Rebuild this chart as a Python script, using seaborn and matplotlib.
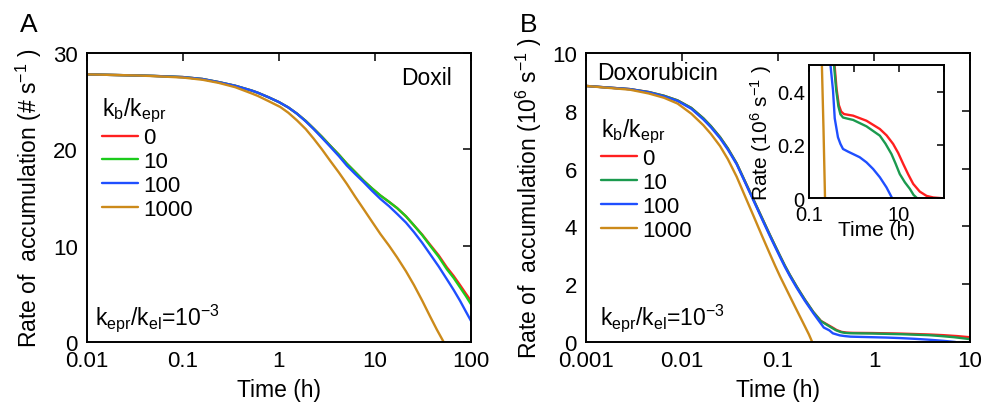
import matplotlib
matplotlib.use("Agg")
import matplotlib.pyplot as plt
import pandas as pd
import seaborn as sns

# k_b/k_epr ratios (hue levels)
ratio_labels = ["0", "10", "100", "1000"]

# Doxil: time (h) and rate of accumulation (# s^-1)
doxil_t = [0.01, 0.032, 0.05, 0.1, 0.16, 0.235, 0.35, 0.52, 0.6, 0.78, 1.0, 1.25, 1.54,
           1.9, 2.3, 2.8, 3.4, 4.2, 5.1, 6.2, 7.6, 9.3, 11.4, 14.0, 17.0, 21.0, 25.5,
           31.0, 37.5, 46.0, 56.0, 66.0, 77.0, 88.0, 100.0]
doxil_r0 = [27.78, 27.67, 27.62, 27.5, 27.3, 26.98, 26.6, 26.1, 25.88, 25.4, 24.9, 24.35, 23.7,
            22.95, 22.15, 21.3, 20.4, 19.45, 18.5, 17.65, 16.75, 15.95, 15.2, 14.55, 13.9, 13.05, 12.1,
            11.15, 10.1, 9.0, 7.75, 6.85, 5.9, 5.05, 4.26]
doxil_r10 = [27.78, 27.67, 27.62, 27.5, 27.3, 26.98, 26.6, 26.1, 25.88, 25.4, 24.9, 24.35, 23.7,
             22.95, 22.15, 21.3, 20.4, 19.45, 18.5, 17.65, 16.75, 15.95, 15.2, 14.55, 13.9, 13.05, 12.1,
             11.1, 10.0, 8.85, 7.56, 6.65, 5.66, 4.8, 3.92]
doxil_r100 = [27.78, 27.67, 27.62, 27.5, 27.3, 26.98, 26.6, 26.1, 25.88, 25.4, 24.9, 24.35, 23.7,
              22.9, 22.1, 21.2, 20.3, 19.3, 18.3, 17.45, 16.6, 15.7, 14.85, 14.1, 13.3, 12.4, 11.4,
              10.3, 9.12, 7.85, 6.52, 5.4, 4.27, 3.2, 2.19]
doxil_t1000 = [0.01, 0.032, 0.05, 0.1, 0.16, 0.235, 0.35, 0.52, 0.6, 0.78, 1.03, 1.25, 1.54,
               1.9, 2.3, 2.8, 3.42, 4.2, 5.1, 6.2, 7.6, 9.3, 11.4, 14.0, 17.0, 21.0, 25.5,
               31.0, 37.5, 44.0, 51.9]
doxil_r1000 = [27.78, 27.67, 27.6, 27.45, 27.22, 26.9, 26.45, 25.8, 25.55, 25.0, 24.4, 23.8, 23.0,
               22.1, 21.1, 20.0, 18.8, 17.6, 16.4, 15.1, 13.8, 12.5, 11.2, 10.0, 8.78, 7.35, 5.9,
               4.3, 2.65, 1.3, 0.0]

# Doxorubicin: time (h) and rate of accumulation (10^6 s^-1)
dox_t0 = [0.001, 0.00287, 0.0045, 0.0065, 0.009, 0.0125, 0.0167, 0.02, 0.0249, 0.03,
          0.0371, 0.045, 0.0553, 0.068, 0.0825, 0.093, 0.105, 0.118, 0.133, 0.157,
          0.175, 0.191, 0.21, 0.233, 0.28, 0.37, 0.41, 0.46, 0.52, 0.6,
          0.75, 0.955, 1.89, 3.75, 5.3, 7.4, 9.6, 12.4, 16.0, 20.7,
          29.0, 41.0, 58.0, 97.0]
dox_r0 = [8.86, 8.75, 8.65, 8.52, 8.36, 8.1, 7.74, 7.47, 7.09, 6.7,
          6.18, 5.58, 4.94, 4.3, 3.7, 3.34, 2.98, 2.64, 2.32, 1.91,
          1.66, 1.46, 1.26, 1.04, 0.73, 0.5, 0.41, 0.35, 0.325, 0.316,
          0.313, 0.31, 0.291, 0.26, 0.236, 0.204, 0.17, 0.129, 0.09, 0.054,
          0.025, 0.009, 0.003, 0.0]
dox_t10 = [0.001, 0.00287, 0.0045, 0.0065, 0.009, 0.0125, 0.0167, 0.02, 0.0249, 0.03,
           0.0371, 0.045, 0.0553, 0.068, 0.0825, 0.093, 0.105, 0.118, 0.133, 0.157,
           0.175, 0.191, 0.21, 0.233, 0.28, 0.36, 0.40, 0.45, 0.5, 0.57,
           0.75, 0.955, 1.89, 3.75, 5.0, 6.8, 8.4, 10.4, 13.5, 17.5,
           21.0, 25.4]
dox_r10 = [8.86, 8.75, 8.65, 8.52, 8.36, 8.1, 7.74, 7.47, 7.09, 6.7,
           6.18, 5.58, 4.94, 4.3, 3.7, 3.34, 2.98, 2.64, 2.32, 1.91,
           1.66, 1.46, 1.26, 1.04, 0.72, 0.5, 0.41, 0.345, 0.315, 0.303,
           0.298, 0.294, 0.27, 0.235, 0.205, 0.166, 0.13, 0.091, 0.06, 0.035,
           0.013, 0.0]
dox_t100 = [0.001, 0.00287, 0.0045, 0.0065, 0.009, 0.0125, 0.0167, 0.02, 0.0249, 0.03,
            0.0371, 0.045, 0.0553, 0.068, 0.0825, 0.093, 0.105, 0.118, 0.133, 0.157,
            0.175, 0.191, 0.21, 0.233, 0.26, 0.30, 0.342, 0.373, 0.44, 0.499,
            0.57, 0.74, 0.955, 1.34, 1.89, 2.66, 3.75, 5.27, 7.06]
dox_r100 = [8.86, 8.75, 8.64, 8.5, 8.34, 8.07, 7.7, 7.43, 7.05, 6.66,
            6.15, 5.55, 4.91, 4.26, 3.66, 3.3, 2.94, 2.6, 2.28, 1.87,
            1.62, 1.42, 1.22, 1.0, 0.78, 0.5, 0.404, 0.30, 0.229, 0.204,
            0.185, 0.175, 0.166, 0.154, 0.135, 0.11, 0.079, 0.041, 0.0]
dox_t1000 = [0.001, 0.00287, 0.0045, 0.0065, 0.009, 0.0125, 0.0167, 0.02, 0.0249, 0.03,
             0.0371, 0.045, 0.0553, 0.068, 0.0825, 0.093, 0.105, 0.118, 0.133, 0.15,
             0.17, 0.19, 0.21, 0.227]
dox_r1000 = [8.86, 8.73, 8.6, 8.45, 8.25, 7.9, 7.5, 7.2, 6.78, 6.33,
             5.72, 5.07, 4.38, 3.68, 3.04, 2.65, 2.27, 1.93, 1.58, 1.23,
             0.87, 0.55, 0.26, 0.0]

# Axis ticks and labels
doxil_xticks = [0.01, 0.1, 1, 10, 100]
doxil_xticklabels = ["0.01", "0.1", "1", "10", "100"]
doxil_yticks = [0, 10, 20, 30]
dox_xticks = [0.001, 0.01, 0.1, 1, 10]
dox_xticklabels = ["0.001", "0.01", "0.1", "1", "10"]
dox_yticks = [0, 2, 4, 6, 8, 10]
inset_xticks = [0.1, 1, 10, 100]
inset_xticklabels = ["0.1", "", "10", ""]
inset_yticks = [0, 0.2, 0.4]
inset_yticklabels = ["0", "0.2", "0.4"]

colors_doxil = {"0": "#ff1f1f", "10": "#1ccb1c", "100": "#1f4fff", "1000": "#cc8a1a"}
colors_dox = {"0": "#ff1f1f", "10": "#1b9a4e", "100": "#1f4fff", "1000": "#cc8a1a"}


def long_frame(series):
    parts = [pd.DataFrame({"time": t, "rate": r, "ratio": lab}) for lab, t, r in series]
    return pd.concat(parts, ignore_index=True)


doxil_df = long_frame([
    ("0", doxil_t, doxil_r0),
    ("10", doxil_t, doxil_r10),
    ("100", doxil_t, doxil_r100),
    ("1000", doxil_t1000, doxil_r1000),
])
dox_df = long_frame([
    ("0", dox_t0, dox_r0),
    ("10", dox_t10, dox_r10),
    ("100", dox_t100, dox_r100),
    ("1000", dox_t1000, dox_r1000),
])

sns.set_theme(style="white")
plt.rcParams.update({
    "font.family": ["Liberation Sans", "DejaVu Sans"],
    "mathtext.fontset": "custom",
    "mathtext.rm": "Liberation Sans",
    "mathtext.it": "Liberation Sans:italic",
    "mathtext.bf": "Liberation Sans:bold",
    "mathtext.default": "regular",
    "text.color": "black",
    "axes.labelcolor": "black",
    "axes.edgecolor": "black",
    "axes.linewidth": 1.4,
    "xtick.color": "black",
    "ytick.color": "black",
    "lines.solid_joinstyle": "round",
})

W, H = 984, 410
fig = plt.figure(figsize=(W / 100, H / 100), dpi=100)
axA = fig.add_axes([87 / W, (H - 343) / H, 384 / W, 289 / H])
axB = fig.add_axes([586 / W, (H - 343) / H, 384 / W, 289 / H])
axI = fig.add_axes([809 / W, (H - 199.3) / H, 135 / W, 133.3 / H])

LW = 1.7
sns.lineplot(data=doxil_df, x="time", y="rate", hue="ratio", hue_order=ratio_labels,
             palette=colors_doxil, estimator=None, linewidth=LW, ax=axA)
sns.lineplot(data=dox_df, x="time", y="rate", hue="ratio", hue_order=ratio_labels,
             palette=colors_dox, estimator=None, linewidth=LW, ax=axB)
sns.lineplot(data=dox_df, x="time", y="rate", hue="ratio", hue_order=ratio_labels,
             palette=colors_dox, estimator=None, linewidth=LW, ax=axI, legend=False)


def style_axis(ax, xticks, xlabels, yticks, ylabels, xlim, ylim, size, tick_len, xpad, ypad):
    ax.set_xscale("log")
    ax.set_xlim(*xlim)
    ax.set_ylim(*ylim)
    ax.set_xticks(xticks)
    ax.set_xticklabels(xlabels)
    ax.set_yticks(yticks)
    ax.set_yticklabels(ylabels)
    ax.minorticks_off()
    ax.tick_params(which="major", direction="in", top=True, right=True,
                   length=tick_len, width=1.1, labelsize=size)
    ax.tick_params(axis="x", pad=xpad)
    ax.tick_params(axis="y", pad=ypad)
    for s in ax.spines.values():
        s.set_visible(True)
        s.set_color("black")
        s.set_linewidth(1.4)


style_axis(axA, doxil_xticks, doxil_xticklabels, doxil_yticks, [str(v) for v in doxil_yticks],
           (0.01, 100), (0, 30), 16, 5.8, 6.0, 6.5)
style_axis(axB, dox_xticks, dox_xticklabels, dox_yticks, [str(v) for v in dox_yticks],
           (0.001, 10), (0, 10), 16, 5.8, 6.0, 6.5)
style_axis(axI, inset_xticks, inset_xticklabels, inset_yticks, inset_yticklabels,
           (0.1, 100), (0, 0.5), 14.5, 5.0, 5.0, 3.0)
axI.set_facecolor("white")

label_size = 16.5
axA.set_xlabel("Time (h)", fontsize=label_size)
axA.set_ylabel("Rate of  accumulation (# s$^{-1}$ )", fontsize=label_size)
axB.set_xlabel("Time (h)", fontsize=label_size)
axB.set_ylabel("Rate of  accumulation (10$^{6}$ s$^{-1}$ )", fontsize=label_size)
axI.set_xlabel("Time (h)", fontsize=15)
axI.set_ylabel("Rate (10$^{6}$ s$^{-1}$ )", fontsize=15)
axA.xaxis.set_label_coords(0.5, -0.125)
axB.xaxis.set_label_coords(0.5, -0.125)
axI.xaxis.set_label_coords(0.5, -0.165)
axA.yaxis.set_label_coords(-0.112, 0.5)
axB.yaxis.set_label_coords(-0.109, 0.5)
axI.yaxis.set_label_coords(-0.26, 0.5)

legend_kw = dict(loc="upper left", frameon=False, fontsize=16, title_fontsize=16.5,
                 handlelength=1.6, handletextpad=0.25, labelspacing=0.13,
                 borderpad=0, borderaxespad=0, alignment="left")
for ax, anchor in ((axA, (0.039, 0.851)), (axB, (0.039, 0.78))):
    handles, labels = ax.get_legend_handles_labels()
    leg = ax.legend(handles, labels, title="$k_b/k_{epr}$", bbox_to_anchor=anchor, **legend_kw)
    for line in leg.get_lines():
        line.set_linewidth(LW)

axA.text(0.9505, 0.893, "Doxil", transform=axA.transAxes, ha="right", va="baseline", fontsize=16.5)
axB.text(0.0286, 0.910, "Doxorubicin", transform=axB.transAxes, ha="left", va="baseline", fontsize=16.5)
axA.text(0.021, 0.062, "$k_{epr}/k_{el}$=10$^{-3}$", transform=axA.transAxes,
         ha="left", va="baseline", fontsize=16.5)
axB.text(0.036, 0.062, "$k_{epr}/k_{el}$=10$^{-3}$", transform=axB.transAxes,
         ha="left", va="baseline", fontsize=16.5)

fig.text(20 / W, (H - 32) / H, "A", ha="left", va="baseline", fontsize=19)
fig.text(520 / W, (H - 32) / H, "B", ha="left", va="baseline", fontsize=19)

fig.savefig("out.png", dpi=100, facecolor="white")
